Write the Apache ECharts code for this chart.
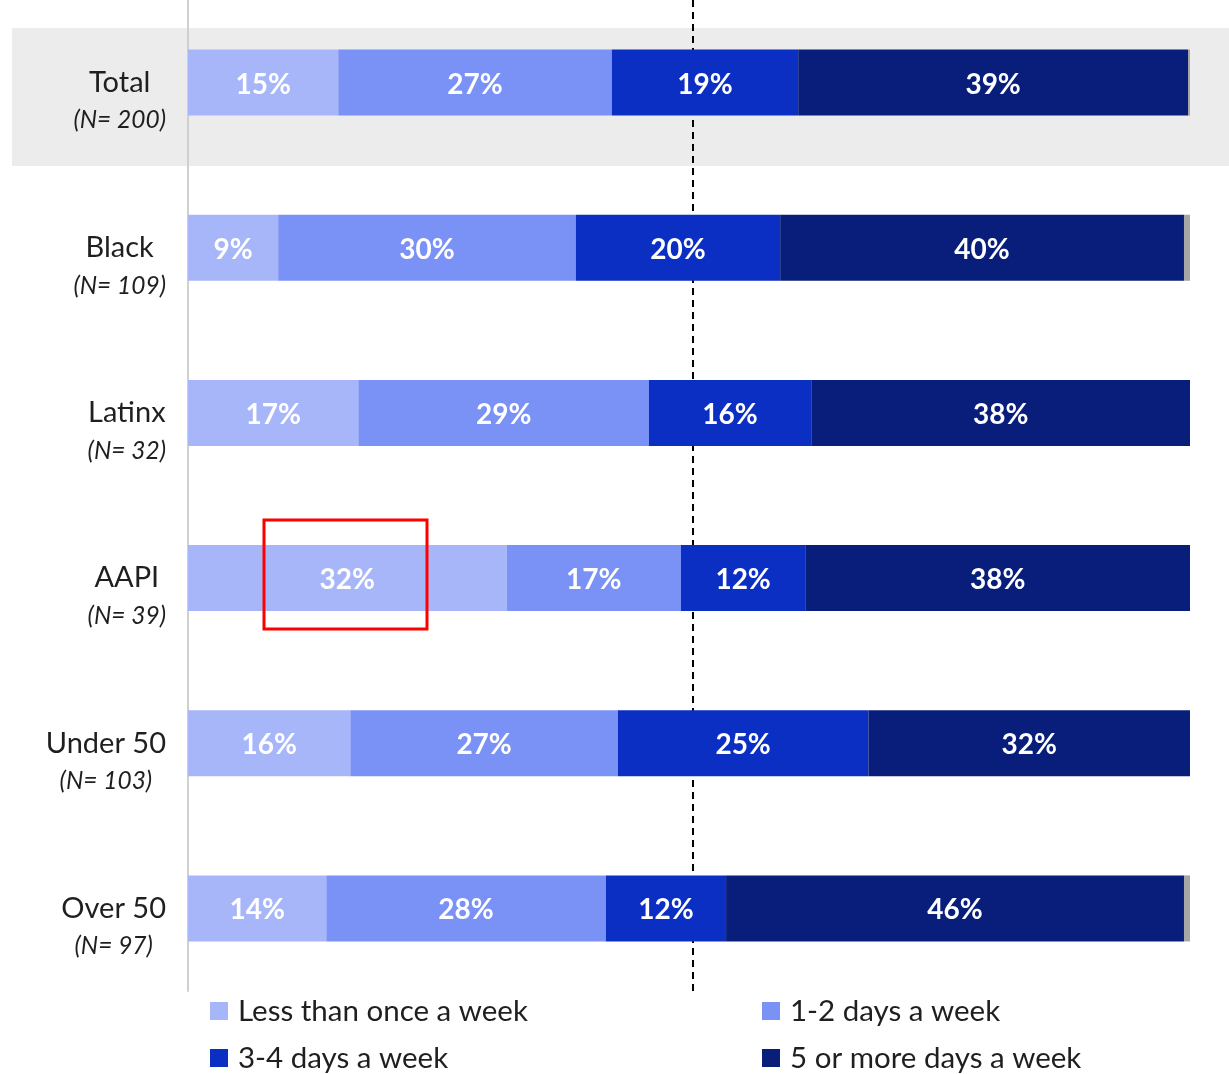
<!DOCTYPE html>
<html>
<head>
<meta charset="utf-8">
<script src="https://cdn.jsdelivr.net/npm/echarts@6/dist/echarts.min.js"></script>
<style>
html,body{margin:0;padding:0;background:#fff;}
#chart{width:1229px;height:1074px;}
</style>
</head>
<body>
<div id="chart"></div>
<script>
var categories = ['Total', 'Black', 'Latinx', 'AAPI', 'Under 50', 'Over 50'];
var sampleSizes = ['(N= 200)', '(N= 109)', '(N= 32)', '(N= 39)', '(N= 103)', '(N= 97)'];
var seriesNames = ['Less than once a week', '1-2 days a week', '3-4 days a week', '5 or more days a week'];
var lessThanOnce = [15.0, 9.0, 17.0, 31.8, 16.2, 13.8];
var oneToTwo = [27.3, 29.7, 29.0, 17.4, 26.7, 27.9];
var threeToFour = [18.6, 20.4, 16.2, 12.4, 25.0, 12.0];
var fiveOrMore = [38.9, 40.3, 37.8, 38.4, 32.1, 45.7];
var remainder = [0.2, 0.6, 0, 0, 0, 0.6];
var midpoint = 50.4;

var colors = ['#a7b6f8', '#7a91f6', '#0b2fc2', '#081e7a'];
var FONT = 'Lato, "Open Sans", sans-serif';
var TEXT = '#1f1f1f';

var chart = echarts.init(document.getElementById('chart'));

function barSeries(name, data, color) {
  return {
    name: name,
    type: 'bar',
    stack: 'total',
    z: 3,
    data: data,
    barWidth: '40%',
    itemStyle: { color: color },
    label: {
      show: true,
      position: 'inside',
      offset: [0, 2],
      color: '#ffffff',
      fontFamily: FONT,
      fontWeight: 'bold',
      fontSize: 28,
      formatter: function (p) { return Math.round(p.value) + '%'; }
    }
  };
}

var legendText = { fontFamily: FONT, fontSize: 29.5, color: TEXT, lineHeight: 30, padding: [0, 0, 0, 5] };

var option = {
  animation: false,
  backgroundColor: '#ffffff',
  grid: { left: 188, right: 39, top: 0, height: 991, containLabel: false },
  xAxis: {
    type: 'value', min: 0, max: 100,
    axisLine: { show: false }, axisTick: { show: false },
    axisLabel: { show: false }, splitLine: { show: false }
  },
  yAxis: {
    type: 'category',
    inverse: true,
    data: categories,
    axisLine: { show: true, lineStyle: { color: '#d0d0d0', width: 2 } },
    axisTick: { show: false },
    axisLabel: {
      margin: 22,
      padding: [38, 0, 0, 0],
      formatter: function (v, i) {
        return '{a|' + v + '}\n{b|' + sampleSizes[i] + '}';
      },
      rich: {
        a: { fontFamily: FONT, fontSize: 29, color: TEXT, lineHeight: 38, align: 'center' },
        b: { fontFamily: FONT, fontSize: 24.5, fontStyle: 'italic', color: TEXT, lineHeight: 38, align: 'center' }
      }
    }
  },
  legend: [
    {
      left: 210, top: 996, orient: 'vertical', padding: 0,
      itemWidth: 18, itemHeight: 18, itemGap: 17, icon: 'rect',
      data: [seriesNames[0], seriesNames[2]],
      textStyle: legendText
    },
    {
      left: 762, top: 996, orient: 'vertical', padding: 0,
      itemWidth: 18, itemHeight: 18, itemGap: 17, icon: 'rect',
      data: [seriesNames[1], seriesNames[3]],
      textStyle: legendText
    }
  ],
  graphic: [
    { type: 'rect', z: -10, silent: true, shape: { x: 12, y: 28, width: 1217, height: 138 }, style: { fill: '#ececec' } },
    { type: 'rect', z: 100, silent: true, shape: { x: 264, y: 520, width: 163, height: 109 }, style: { fill: 'none', stroke: '#ff0000', lineWidth: 3 } }
  ],
  series: [
    barSeries(seriesNames[0], lessThanOnce, colors[0]),
    barSeries(seriesNames[1], oneToTwo, colors[1]),
    barSeries(seriesNames[2], threeToFour, colors[2]),
    barSeries(seriesNames[3], fiveOrMore, colors[3]),
    {
      name: 'Other',
      type: 'bar',
      stack: 'total',
      z: 1,
      data: remainder,
      barWidth: '40%',
      itemStyle: { color: '#a6a6a6' },
      label: { show: false },
      markLine: {
        z: 1,
        silent: true,
        symbol: ['none', 'none'],
        label: { show: false },
        lineStyle: { color: '#000', type: [7, 5], width: 2 },
        data: [{ xAxis: midpoint }]
      }
    }
  ]
};
chart.setOption(option);
</script>
</body>
</html>
